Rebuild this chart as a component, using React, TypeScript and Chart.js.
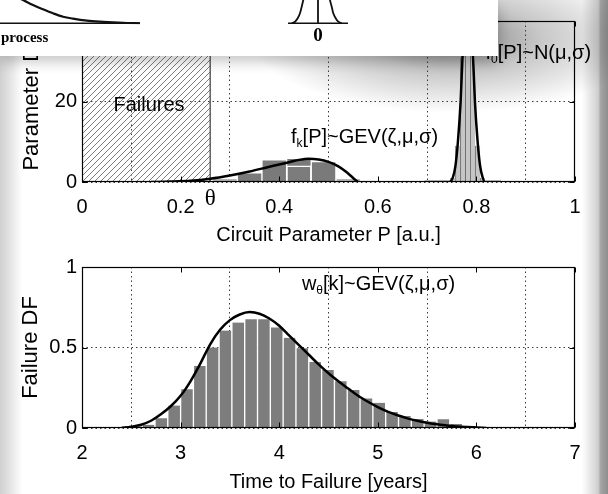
import React, { useEffect, useRef } from "react";
import { Chart, registerables } from "chart.js";

Chart.register(...registerables);

const SANS = '"Liberation Sans", Arial, Helvetica, sans-serif';
const SERIF = '"Liberation Serif", "Times New Roman", Times, serif';

/* ---------------- top panel: circuit parameter densities ---------------- */
const paramMin = 0;
const paramMax = 1;
const paramStep = 0.2;
const densityMin = 0;
const densityMax = 40;
const densityStep = 20;
const theta = 0.26; // failure threshold

// histogram of the aged parameter f_k[P]
const agedBinCenters = [0.29, 0.34, 0.39, 0.44, 0.49, 0.54];
const agedBinHeights = [0.9, 2.3, 5.5, 5.9, 5.1, 0.9];
const agedInnerCenters = [0.44];
const agedInnerHeights = [4.0];
// fitted GEV density f_k[P]
const agedCurveP = [0.14, 0.18, 0.22, 0.26, 0.3, 0.34, 0.38, 0.42, 0.44, 0.46, 0.48, 0.5, 0.52, 0.535, 0.55, 0.56];
const agedCurveD = [0, 0.1, 0.3, 0.8, 1.6, 2.6, 3.8, 4.9, 5.5, 5.8, 5.6, 5.0, 3.9, 2.6, 1.0, 0];

// histogram of the fresh parameter f_0[P]
const freshBinCenters = [0.7525, 0.7625, 0.7725, 0.7825, 0.7925, 0.8025, 0.8125];
const freshBinHeights = [1, 9, 31, 46, 32, 9, 1];
// fitted normal density f_0[P]
const freshCurveP = [0.695, 0.745, 0.7525, 0.7575, 0.7625, 0.768, 0.7725, 0.7775, 0.7825, 0.7875, 0.7925, 0.797, 0.8025, 0.8075, 0.8125, 0.8175, 0.85];
const freshCurveD = [0, 0, 1.2, 4, 10, 20, 33, 43, 47, 43, 33, 20, 10, 4, 1.2, 0, 0];

const topXTitle = "Circuit Parameter P [a.u.]";
const topYTitle = "Parameter DF";
const failuresText = "Failures";
const failuresAt = [0.136, 19];
const agedLabel = [{ t: "f" }, { t: "k", sub: true }, { t: "[P]~GEV(ζ,μ,σ)" }];
const agedLabelAt = [0.424, 11.1];
const freshLabel = [{ t: "f" }, { t: "0", sub: true }, { t: "[P]~N(μ,σ)" }];
const freshLabelAt = [0.8185, 31.9];
const thetaText = "θ";

/* ---------------- bottom panel: time-to-failure ---------------- */
const ttfMin = 2;
const ttfMax = 7;
const ttfStep = 1;
const dfMin = 0;
const dfMax = 1;
const dfStep = 0.5;
const ttfBinCenters = [
  2.545, 2.675, 2.805, 2.935, 3.065, 3.195, 3.325, 3.455, 3.585, 3.715, 3.845, 3.975, 4.105, 4.235,
  4.365, 4.495, 4.625, 4.755, 4.885, 5.015, 5.145, 5.275, 5.405, 5.535, 5.665, 5.795, 5.925, 6.055,
];
const ttfBinHeights = [
  0.01, 0.02, 0.06, 0.14, 0.24, 0.385, 0.5, 0.605, 0.655, 0.675, 0.675, 0.625, 0.56, 0.495,
  0.41, 0.36, 0.29, 0.236, 0.184, 0.157, 0.1, 0.075, 0.056, 0.04, 0.055, 0.025, 0.012, 0.005,
];
const ttfCurveT = [
  2.4, 2.5, 2.6, 2.7, 2.8, 2.9, 3.0, 3.1, 3.2, 3.3, 3.4, 3.5, 3.6, 3.7, 3.8, 3.9, 4.0, 4.1, 4.2,
  4.3, 4.4, 4.5, 4.6, 4.7, 4.8, 4.9, 5.0, 5.1, 5.2, 5.3, 5.4, 5.5, 5.6, 5.7, 5.8, 5.9, 6.0, 6.1,
];
const ttfCurveF = [
  0, 0.008, 0.02, 0.045, 0.085, 0.135, 0.2, 0.29, 0.4, 0.52, 0.61, 0.67, 0.705, 0.72, 0.71, 0.68,
  0.635, 0.575, 0.515, 0.455, 0.395, 0.34, 0.29, 0.245, 0.2, 0.163, 0.13, 0.102, 0.079, 0.06,
  0.045, 0.033, 0.023, 0.016, 0.01, 0.006, 0.003, 0,
];
const botXTitle = "Time to Failure [years]";
const botYTitle = "Failure DF";
const ttfLabel = [{ t: "w" }, { t: "θ", sub: true }, { t: "[k]~GEV(ζ,μ,σ)" }];
const ttfLabelAt = [4.23, 0.89];

/* ---------------- inset sketch (overlapping figure fragment) ---------------- */
const sketchMin = -31.8;
const sketchMax = 18;
const sketchTicks = [0];
const sketchDecayX = [-30.5, -29.5, -28.5, -27.5, -26.5, -25.5, -24.5, -23.1, -21.8, -20.5, -19.1, -17.8];
const sketchDecayY = [28, 23.3, 18.3, 14, 10, 6.6, 4.6, 2.6, 1.6, 1.0, 0.3, 0];
const sketchBase1X = [-31.8, -17.8];
const sketchBase2X = [-3, 3];
const sketchLeftFlankX = [-2.63, -2.3, -2.03, -1.8, -1.63, -1.47, -1.3];
const sketchLeftFlankY = [0, 1.6, 5, 10, 16.6, 23.3, 30];
const sketchRightFlankX = [1.1, 1.2, 1.37, 1.53, 1.77, 2.03, 2.37];
const sketchRightFlankY = [30, 23.3, 16.6, 10, 5, 1.6, 0];
const sketchCaption = "process";

const zip = (xs: number[], ys: number[]) => xs.map((x, i) => ({ x, y: ys[i] }));
const tickText = (v: any) => String(Math.round(Number(v) * 1000) / 1000);

function drawRich(ctx: CanvasRenderingContext2D, parts: any[], x: number, y: number, size: number) {
  let cx = x;
  for (const p of parts) {
    if (p.sub) {
      ctx.font = `${Math.round(size * 0.62)}px ${SANS}`;
      ctx.fillText(p.t, cx, y + size * 0.32);
    } else {
      ctx.font = `${size}px ${SANS}`;
      ctx.fillText(p.t, cx, y);
    }
    cx += ctx.measureText(p.t).width;
  }
}

const framePlugin = {
  id: "matlabFrame",
  afterDatasetsDraw(chart: any) {
    const { ctx, chartArea: a, scales } = chart;
    const L = Math.round(a.left) + 0.5;
    const R = Math.round(a.right) - 0.5;
    const T = Math.round(a.top) + 0.5;
    const B = Math.round(a.bottom) - 0.5;
    ctx.save();
    ctx.strokeStyle = "#000";
    ctx.lineWidth = 1.2;
    ctx.strokeRect(L, T, R - L, B - T);
    ctx.lineWidth = 1;
    ctx.beginPath();
    const tl = 5;
    scales.x.ticks.forEach((t: any) => {
      const px = Math.round(scales.x.getPixelForValue(t.value)) + 0.5;
      ctx.moveTo(px, B);
      ctx.lineTo(px, B - tl);
      ctx.moveTo(px, T);
      ctx.lineTo(px, T + tl);
    });
    scales.y.ticks.forEach((t: any) => {
      const py = Math.round(scales.y.getPixelForValue(t.value)) + 0.5;
      ctx.moveTo(L, py);
      ctx.lineTo(L + tl, py);
      ctx.moveTo(R, py);
      ctx.lineTo(R - tl, py);
    });
    ctx.stroke();
    ctx.restore();
  },
};

function axis(min: number, max: number, step: number, title: string, isX: boolean, fit: number, titlePad: any) {
  return {
    type: "linear",
    min,
    max,
    offset: false,
    ticks: {
      stepSize: step,
      color: "#000",
      font: { family: SANS, size: 20 },
      padding: isX ? 13 : 5,
      maxRotation: 0,
      autoSkip: false,
      callback: tickText,
    },
    grid: { color: "#3a3a3a", lineWidth: 1, drawTicks: false },
    border: { display: false, dash: [1.5, 3] },
    title: {
      display: true,
      text: title,
      color: "#000",
      font: { family: SANS, size: isX ? 20 : 22 },
      padding: titlePad,
    },
    afterFit: (s: any) => {
      if (isX) s.height = fit;
      else s.width = fit;
    },
  };
}

export default function App() {
  const topRef = useRef<HTMLCanvasElement>(null);
  const botRef = useRef<HTMLCanvasElement>(null);
  const miniRef = useRef<HTMLCanvasElement>(null);

  useEffect(() => {
    const charts: Chart[] = [];

    // hatch pattern for the failure region
    const pc = document.createElement("canvas");
    pc.width = 6;
    pc.height = 6;
    const pctx = pc.getContext("2d")!;
    pctx.strokeStyle = "#6e6e6e";
    pctx.lineWidth = 0.9;
    pctx.beginPath();
    pctx.moveTo(0, 6);
    pctx.lineTo(6, 0);
    pctx.moveTo(-1, 1);
    pctx.lineTo(1, -1);
    pctx.moveTo(5, 7);
    pctx.lineTo(7, 5);
    pctx.stroke();

    if (topRef.current) {
      const ctx = topRef.current.getContext("2d")!;
      const hatch = ctx.createPattern(pc, "repeat");
      const notes = {
        id: "topNotes",
        afterDatasetsDraw(chart: any) {
          const { ctx: c, scales, chartArea } = chart;
          const x = scales.x;
          const y = scales.y;
          c.save();
          c.fillStyle = "#000";
          c.textBaseline = "middle";
          c.textAlign = "center";
          c.font = `20px ${SANS}`;
          c.fillText(failuresText, x.getPixelForValue(failuresAt[0]), y.getPixelForValue(failuresAt[1]));
          c.textAlign = "left";
          drawRich(c, agedLabel, x.getPixelForValue(agedLabelAt[0]), y.getPixelForValue(agedLabelAt[1]), 20);
          drawRich(c, freshLabel, x.getPixelForValue(freshLabelAt[0]), y.getPixelForValue(freshLabelAt[1]), 20);
          c.textAlign = "center";
          c.font = `23px ${SERIF}`;
          c.fillText(thetaText, x.getPixelForValue(theta), chartArea.bottom + 17);
          c.restore();
        },
      };
      charts.push(
        new Chart(topRef.current, {
          type: "bar",
          data: {
            datasets: [
              {
                type: "line",
                data: zip(agedCurveP, agedCurveD),
                borderColor: "#000",
                borderWidth: 2.5,
                pointRadius: 0,
                cubicInterpolationMode: "monotone",
              },
              {
                type: "line",
                data: zip(freshCurveP, freshCurveD),
                borderColor: "#000",
                borderWidth: 2.5,
                pointRadius: 0,
                cubicInterpolationMode: "monotone",
              },
              {
                type: "line",
                data: [
                  { x: theta, y: densityMin },
                  { x: theta, y: densityMax },
                ],
                borderColor: "#3c3c3c",
                borderWidth: 1.2,
                pointRadius: 0,
              },
              {
                type: "bar",
                data: zip(agedInnerCenters, agedInnerHeights),
                backgroundColor: "#7c7c7c",
                borderColor: "#ffffff",
                borderWidth: { top: 1.5, left: 1.5, right: 1.5, bottom: 0 },
                grouped: false,
                barPercentage: 1,
                categoryPercentage: 1,
              },
              {
                type: "bar",
                data: zip(agedBinCenters, agedBinHeights),
                backgroundColor: ["#b8b8b8", "#7a7a7a", "#7a7a7a", "#7a7a7a", "#7a7a7a", "#b8b8b8"],
                borderColor: "#ffffff",
                borderWidth: { top: 1, left: 1, right: 1, bottom: 0 },
                grouped: false,
                barPercentage: 1,
                categoryPercentage: 1,
              },
              {
                type: "bar",
                xAxisID: "xN",
                data: zip(freshBinCenters, freshBinHeights),
                backgroundColor: "#c6c6c6",
                borderColor: "#6f6f6f",
                borderWidth: { top: 0, left: 1, right: 0, bottom: 0 },
                grouped: false,
                barPercentage: 1,
                categoryPercentage: 1,
              },
              {
                type: "line",
                data: [
                  { x: paramMin, y: densityMax },
                  { x: theta, y: densityMax },
                ],
                borderWidth: 0,
                borderColor: "rgba(0,0,0,0)",
                pointRadius: 0,
                fill: "origin",
                backgroundColor: hatch as any,
              },
            ],
          } as any,
          options: {
            animation: false,
            responsive: false,
            maintainAspectRatio: false,
            events: [],
            layout: { padding: { top: 21, right: 33, left: 0, bottom: 0 } },
            plugins: { legend: { display: false }, tooltip: { enabled: false } },
            scales: {
              x: axis(paramMin, paramMax, paramStep, topXTitle, true, 68, { top: 0, bottom: 3 }),
              xN: { type: "linear", min: paramMin, max: paramMax, display: false, offset: false },
              y: axis(densityMin, densityMax, densityStep, topYTitle, false, 82, { top: 19, bottom: 0 }),
            },
          } as any,
          plugins: [notes, framePlugin],
        })
      );
    }

    if (botRef.current) {
      const notes = {
        id: "botNotes",
        afterDatasetsDraw(chart: any) {
          const { ctx: c, scales } = chart;
          c.save();
          c.fillStyle = "#000";
          c.textBaseline = "middle";
          c.textAlign = "left";
          drawRich(c, ttfLabel, scales.x.getPixelForValue(ttfLabelAt[0]), scales.y.getPixelForValue(ttfLabelAt[1]), 20);
          c.restore();
        },
      };
      charts.push(
        new Chart(botRef.current, {
          type: "bar",
          data: {
            datasets: [
              {
                type: "line",
                data: zip(ttfCurveT, ttfCurveF),
                borderColor: "#000",
                borderWidth: 2.5,
                pointRadius: 0,
                cubicInterpolationMode: "monotone",
              },
              {
                type: "bar",
                data: zip(ttfBinCenters, ttfBinHeights),
                backgroundColor: "#7d7d7d",
                borderColor: "#ffffff",
                borderWidth: { top: 0, left: 1, right: 1, bottom: 0 },
                grouped: false,
                barPercentage: 1,
                categoryPercentage: 1,
              },
            ],
          } as any,
          options: {
            animation: false,
            responsive: false,
            maintainAspectRatio: false,
            events: [],
            layout: { padding: { top: 17, right: 33, left: 0, bottom: 0 } },
            plugins: { legend: { display: false }, tooltip: { enabled: false } },
            scales: {
              x: axis(ttfMin, ttfMax, ttfStep, botXTitle, true, 66, { top: 0, bottom: 0 }),
              y: axis(dfMin, dfMax, dfStep, botYTitle, false, 82, { top: 18, bottom: 0 }),
            },
          } as any,
          plugins: [notes, framePlugin],
        })
      );
    }

    if (miniRef.current) {
      const line = (data: any[], w = 2) => ({
        data,
        showLine: true,
        borderColor: "#111",
        borderWidth: w,
        pointRadius: 0,
        cubicInterpolationMode: "monotone",
      });
      charts.push(
        new Chart(miniRef.current, {
          type: "scatter",
          data: {
            datasets: [
              line(zip(sketchDecayX, sketchDecayY), 2.2),
              line(zip(sketchBase1X, [0, 0]), 1.6),
              line(zip(sketchBase2X, [0, 0]), 1.6),
              line(zip(sketchLeftFlankX, sketchLeftFlankY), 1.8),
              line(zip(sketchRightFlankX, sketchRightFlankY), 1.8),
              line([
                { x: 0, y: 0 },
                { x: 0, y: 30 },
              ], 1.8),
            ],
          } as any,
          options: {
            animation: false,
            responsive: false,
            maintainAspectRatio: false,
            events: [],
            layout: { padding: 0 },
            plugins: { legend: { display: false }, tooltip: { enabled: false } },
            scales: {
              x: {
                type: "linear",
                min: sketchMin,
                max: sketchMax,
                afterBuildTicks: (s: any) => {
                  s.ticks = sketchTicks.map((v) => ({ value: v }));
                },
                ticks: {
                  color: "#000",
                  font: { family: SERIF, size: 19, weight: "bold" },
                  padding: 0,
                  maxRotation: 0,
                  callback: tickText,
                },
                grid: { display: false, drawTicks: false },
                border: { display: false },
                afterFit: (s: any) => {
                  s.height = 31.7;
                },
              },
              y: { type: "linear", min: -1, max: 23.3, display: false },
            },
          } as any,
        })
      );
    }

    return () => charts.forEach((c) => c.destroy());
  }, []);

  return (
    <div
      style={{
        position: "absolute",
        left: 0,
        top: 0,
        width: 608,
        height: 494,
        overflow: "hidden",
        background: "#ffffff",
      }}
    >
      <div
        style={{
          position: "absolute",
          left: 0,
          top: 0,
          width: 22,
          height: 494,
          background: "linear-gradient(to right, #d0d0d0 0%, #e8e8e8 55%, rgba(255,255,255,0) 100%)",
        }}
      />
      <div
        style={{
          position: "absolute",
          left: 582,
          top: 0,
          width: 26,
          height: 494,
          background:
            "linear-gradient(to right, rgba(255,255,255,0) 0%, #cfcfcf 62%, #a4a4a4 72%, #8e8e8e 100%)",
        }}
      />
      <div
        style={{
          position: "absolute",
          left: 0,
          top: 0,
          width: 608,
          height: 170,
          background: "radial-gradient(200px 75px at 450px 38px, rgba(0,0,0,0.5), rgba(0,0,0,0.22) 45%, rgba(0,0,0,0) 100%)",
        }}
      />
      <canvas
        ref={topRef}
        width={608}
        height={250}
        style={{ position: "absolute", left: 0, top: 0, width: 608, height: 250 }}
      />
      <canvas
        ref={botRef}
        width={608}
        height={244}
        style={{ position: "absolute", left: 0, top: 250, width: 608, height: 244 }}
      />
      <div
        style={{
          position: "absolute",
          left: 0,
          top: 0,
          width: 498,
          height: 56,
          background: "#ffffff",
          boxShadow: "0 6px 12px rgba(0,0,0,0.22)",
        }}
      >
        <canvas
          ref={miniRef}
          width={498}
          height={56}
          style={{ position: "absolute", left: 0, top: 0, width: 498, height: 56 }}
        />
        <span
          style={{
            position: "absolute",
            left: 1,
            top: 29,
            font: `bold 15px ${SERIF}`,
            lineHeight: "16px",
            color: "#000",
          }}
        >
          {sketchCaption}
        </span>
      </div>
    </div>
  );
}
